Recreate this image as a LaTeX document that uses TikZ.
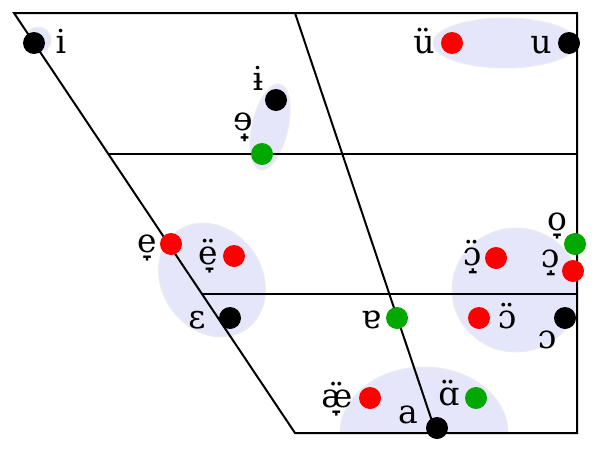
\documentclass[tikz,border=0pt]{standalone}
\usepackage{fontspec}
\setmainfont{DejaVu Serif}
\definecolor{lav}{RGB}{230,230,250}
\definecolor{vred}{RGB}{255,0,0}
\definecolor{vgreen}{RGB}{0,168,0}
\begin{document}
\begin{tikzpicture}[x=1pt,y=-1pt,
  blob/.style={fill=lav, draw=black!7, line width=1pt},
  frame/.style={line width=2pt, draw=black},
  vdot/.style={circle, inner sep=0pt, minimum size=22pt},
  bdot/.style={vdot, fill=black},
  rdot/.style={vdot, fill=vred},
  gdot/.style={vdot, fill=vgreen},
  lab/.style={anchor=base, inner sep=0pt, font=\fontsize{33}{40}\selectfont}]
\useasboundingbox (0,0) rectangle (600,453);
% blobs
\path[blob] (38,40) circle[radius=13];
\path[blob, shift={(270,127)}, rotate=77] (0,0) ellipse[x radius=44pt, y radius=18pt];
\path[blob, shift={(212,280)}, rotate=-55] (0,0) ellipse[x radius=60pt, y radius=50pt];
\begin{scope}
  \clip (0,0) rectangle (577,433);
  \path[blob] (505,43) ellipse[x radius=72, y radius=25];
  \path[blob] (516,290) ellipse[x radius=64, y radius=62];
  \path[blob] (424,433) ellipse[x radius=84, y radius=66];
\end{scope}
% frame
\coordinate (TL) at (14,13);
\coordinate (TM) at (295,13);
\coordinate (TR) at (577,13);
\coordinate (BR) at (577,433);
\coordinate (BL) at (295,433);
\coordinate (BM) at (436,433);
\coordinate (M1L) at (108,154);
\coordinate (M1R) at (577,154);
\coordinate (M2L) at (202,294);
\coordinate (M2R) at (577,294);
\draw[frame] (TL) -- (TR) -- (BR) -- (BL) -- cycle;
\draw[frame] (TM) -- (BM);
\draw[frame] (M1L) -- (M1R);
\draw[frame] (M2L) -- (M2R);
% dots
\node[bdot] (Di) at (34,43) {};
\node[rdot] (Dy) at (452,43) {};
\node[bdot] (Du) at (569,43) {};
\node[bdot] (Dbi) at (276,100) {};
\node[gdot] (Dschwa) at (262,154) {};
\node[rdot] (De) at (171,244) {};
\node[rdot] (Dee) at (234,256) {};
\node[bdot] (Deps) at (230,318) {};
\node[gdot] (Dturna) at (397,318) {};
\node[gdot] (Do) at (575,244) {};
\node[rdot] (Dor) at (573,271) {};
\node[rdot] (Dorr) at (496,258) {};
\node[rdot] (Doo) at (479,318) {};
\node[bdot] (Dopen) at (565,318) {};
\node[rdot] (Dae) at (370,398) {};
\node[gdot] (Dalpha) at (476,398) {};
\node[bdot] (Da) at (437,428) {};
% labels
\node[lab] (Li) at (61,53) {i};
\node[lab] (Ly) at (424,53) {ü};
\node[lab] (Lu) at (541,53) {u};
\node[lab] (Lbi) at (258,90) {ɨ};
\node[lab] (Lschwa) at (243,130) {ɘ̟};
\node[lab] (Le) at (147,252) {e̞};
\node[lab] (Lee) at (208,264) {ë̞};
\node[lab] (Leps) at (197,328) {ɛ};
\node[lab] (Lturna) at (371,328) {ɐ};
\node[lab] (Lo) at (557,230) {o̞};
\node[lab] (Lor) at (550,267) {ɔ̝};
\node[lab] (Lorr) at (472,265) {ɔ̝̈};
\node[lab] (Loo) at (507,328) {ɔ̈};
\node[lab] (Lopen) at (547,348) {ɔ};
\node[lab] (Lae) at (337,407) {æ̞̈};
\node[lab] (Lalpha) at (449,405) {ɑ̈};
\node[lab] (La) at (408,423) {a};
\end{tikzpicture}
\end{document}
